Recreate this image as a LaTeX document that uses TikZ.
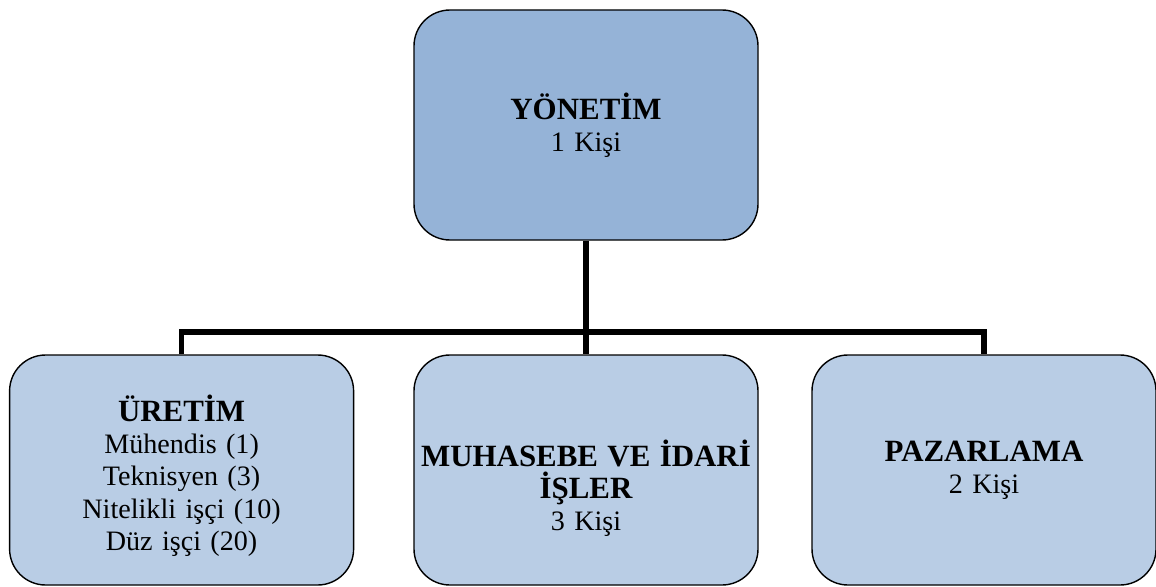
\documentclass[tikz,border=0pt]{standalone}
\usepackage{fontspec}
\setmainfont{Liberation Serif}
\usepackage{xcolor}
\usetikzlibrary{positioning}

\definecolor{topblue}{HTML}{95B3D7}
\definecolor{subblue}{HTML}{B9CDE5}

% heading line inside a box
\newcommand{\unithead}[1]{{\fontsize{22}{23}\selectfont\bfseries #1}}

\begin{document}
\begin{tikzpicture}[
        unit/.style={draw=black, line width=1pt, rounded corners=0.9cm,
                     minimum width=8.6cm, minimum height=5.75cm,
                     inner xsep=2pt, text width=8.4cm, align=center,
                     font=\fontsize{20}{23}\selectfont},
        head/.style={unit, fill=topblue},
        sub/.style={unit, fill=subblue},
        lower/.style={execute at begin node={\rule{0pt}{#1}}},
        conn/.style={line width=3.6pt}
    ]
        \useasboundingbox (0,0) rectangle (28.9,14.65);

        % ── top of the chart ─────────────────────────────────────────────
        \node[head] (yonetim) at (14.65, 11.525) {\unithead{YÖNETİM}\\1 Kişi};

        % ── departments ──────────────────────────────────────────────────
        \node[sub, lower=27pt] (uretim)   at (4.54, 2.9)
            {\unithead{ÜRETİM}\\Mühendis (1)\\Teknisyen (3)\\Nitelikli işçi (10)\\Düz işçi (20)};
        \node[sub, lower=45pt] (muhasebe) at (14.65, 2.9)
            {\unithead{MUHASEBE VE İDARİ}\\\unithead{İŞLER}\\3 Kişi};
        \node[sub]             (pazar)    at (24.6, 2.9) {\unithead{PAZARLAMA}\\2 Kişi};

        % ── connectors ───────────────────────────────────────────────────
        \coordinate (bar) at (14.65, 6.35);
        \draw[conn] (yonetim.south) -- (muhasebe.north);
        \draw[conn] (uretim.north) |- (bar) -| (pazar.north);

    \end{tikzpicture}
\end{document}
